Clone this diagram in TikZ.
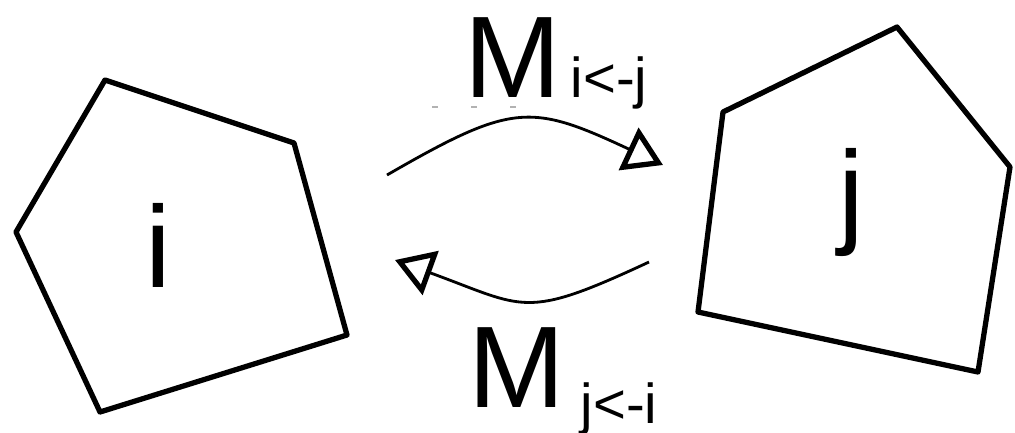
\documentclass[tikz,border=0pt]{standalone}
\usepackage{fontspec}
\setmainfont{Liberation Sans}
\usepackage{tikz}
\usetikzlibrary{arrows.meta, positioning}
\tikzset{
    cell/.style={draw=black, line width=1.5pt, line join=round},
    cellname/.style={font=\fontsize{33}{36}\selectfont, inner sep=0pt, anchor=base},
    msgname/.style={font=\fontsize{33}{36}\selectfont, inner sep=0pt, anchor=base west},
    msgsub/.style={font=\fontsize{16}{18}\selectfont, inner sep=0pt, anchor=base west},
    msgarrow/.style={line width=0.8pt, -{Triangle[open, length=0.38cm, width=0.46cm, line width=1.5pt]}}
}

\begin{document}
\begin{tikzpicture}[x=0.01cm, y=0.01cm]
    \useasboundingbox (0,0) rectangle (1015,432);

    % the two regions
    \draw [cell] (105,352) -- (294,289) -- (347,97) -- (100,20) -- (16,200) -- cycle;
    \draw [cell] (723,320) -- (897,405) -- (1010,265) -- (978,60) -- (698,120) -- cycle;
    \node (celli) [cellname] at (158,145) {i};
    \node (cellj) [cellname] at (851,200) {j};

    % messages
    \node (mtop) [msgname] at (464,335) {M};
    \node (subtop) [msgsub, xshift=0.08cm] at (mtop.base east) {i<-j};
    \node (mbot) [msgname] at (468,25) {M};
    \node (subbot) [msgsub, xshift=0.14cm, yshift=-0.16cm] at (mbot.base east) {j<-i};
    \draw [gray!60, line width=0.6pt, dash pattern=on 0.06cm off 0.33cm] (432,325) -- (522,325);

    \coordinate (topstart) at (387,257);
    \coordinate (topend) at (663,267);
    \coordinate (botstart) at (649,170);
    \coordinate (botend) at (395,172);

    \draw [msgarrow] (topstart) to[out=30, in=155, looseness=1.35] (topend);
    \draw [msgarrow] (botstart) to[out=205, in=340, looseness=1.4] (botend);
\end{tikzpicture}
\end{document}
